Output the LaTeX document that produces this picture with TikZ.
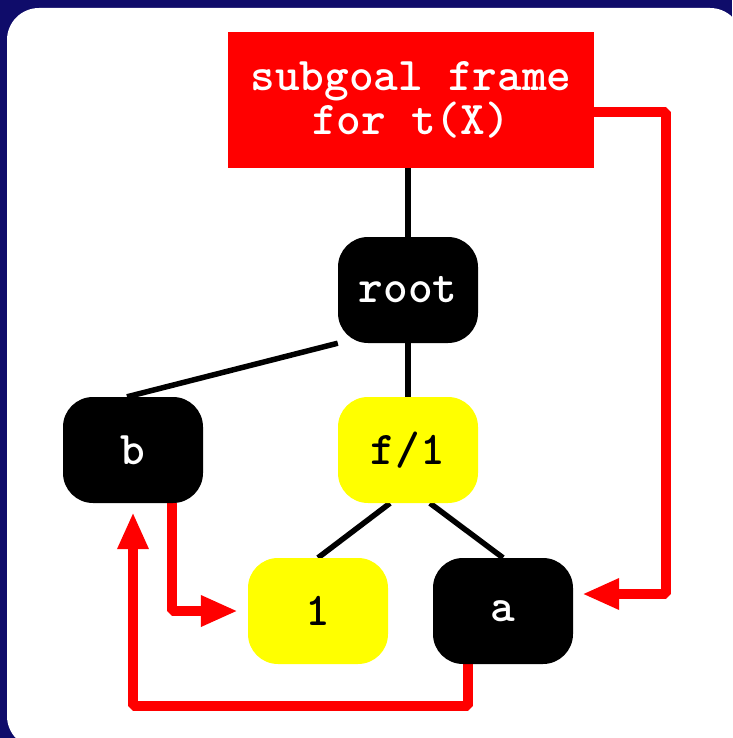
\documentclass[tikz,border=0pt]{standalone}
\usepackage{fontspec}
\usetikzlibrary{arrows.meta,positioning}
\definecolor{navy}{HTML}{0F0C6A}
\definecolor{hotred}{HTML}{FF0000}
\definecolor{lemon}{HTML}{FFFF00}
\pgfdeclarelayer{backdrop}
\pgfdeclarelayer{edges}
\pgfsetlayers{backdrop,edges,main}

\begin{document}
\begin{tikzpicture}[x=1pt, y=-1pt,
  cell/.style={rectangle, fill=#1, minimum width=140pt, minimum height=106pt, inner sep=0pt, rounded corners=30pt,
    font=\fontsize{47}{40}\selectfont\ttfamily\bfseries},
  frame/.style={rectangle, fill=hotred, text=white, minimum width=366pt, minimum height=136pt, inner sep=0pt, align=center,
    font=\fontsize{47}{40}\selectfont\ttfamily\bfseries},
  tree/.style={line width=5.5pt, black},
  link/.style={-{Triangle[length=37pt, width=29pt]}, line width=10pt, hotred, line join=bevel}
]
  \useasboundingbox (0,0) rectangle (732,738);
  \begin{pgfonlayer}{backdrop}
    \fill[navy] (0,0) rectangle (732,738);
    \fill[white, rounded corners=32pt] (7,8) rectangle (742,748);
  \end{pgfonlayer}

  \node[frame] (subgoal) at (411,100) {subgoal frame\\for t(X)};
  \node[cell=black, text=white] (root) at (408,290) {root};
  \node[cell=black, text=white] (b) at (133,450) {b};
  \node[cell=lemon] (f1) at (408,450) {f/1};
  \node[cell=lemon] (one) at (318,611) {1};
  \node[cell=black, text=white] (a) at (503,611) {a};

  \begin{pgfonlayer}{edges}
    \draw[tree] (root |- subgoal.south) -- (root);
    \draw[tree] (root) -- (f1);
    \draw[tree] (root.south west) -- ([xshift=-6pt]b.north);
    \draw[tree] ([xshift=-18pt]f1.south) -- (one.north);
    \draw[tree] ([xshift=22pt]f1.south) -- (a.north);

    \draw[link] ([yshift=-12pt]subgoal.east) -- ++(72,0) |- ([xshift=9pt,yshift=17pt]a.east);
    \draw[link] ([xshift=39pt]b.south) |- ([xshift=-10pt]one.west);
    \draw[link] ([xshift=-35pt]a.south) -- ++(0,42) -| ([yshift=-9pt]b.south);
  \end{pgfonlayer}
\end{tikzpicture}
\end{document}
